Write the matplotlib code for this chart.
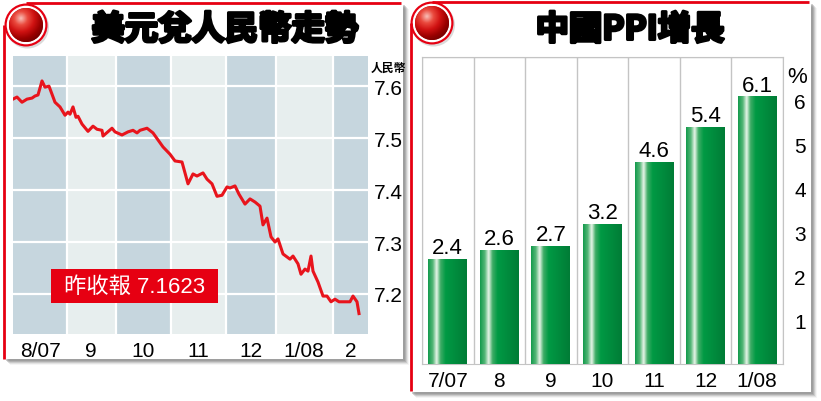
import numpy as np
import matplotlib.pyplot as plt
import matplotlib.patheffects as pe
from matplotlib.colors import LinearSegmentedColormap
from matplotlib.patches import Rectangle, Circle

plt.rcParams['font.family'] = ['Liberation Sans', 'Noto Sans CJK TC', 'DejaVu Sans']

# USD/CNY, Aug 2007 - Feb 2008 (x = trading day index)
fx_days = [0, 1.6, 3.6, 5.6, 7.6, 8.8, 10, 11.6, 12.8, 14.4, 16.8, 18.8, 20.8,
           22, 22.8, 24, 25.2, 26, 27.6, 30, 32, 33.6, 35.6, 36, 39.6, 40.8,
           43.6, 46, 48, 49.6, 50.8, 53.6, 56, 60, 62.8, 64.8, 67.6, 70, 72,
           73.6, 76, 77.6, 79.6, 81.6, 83.6, 85.6, 86.8, 88.8, 90.4, 92.8,
           94.8, 96.8, 98.8, 100, 101.6, 103.2, 104.8, 106, 108, 110.8, 112,
           114, 115.2, 116.8, 118, 119.2, 120, 122, 124, 125.6, 127.2, 128.8,
           130.4, 134.8, 136, 137.6, 138.4]
fx_rate = [7.575, 7.579, 7.569, 7.575, 7.577, 7.581, 7.583, 7.610, 7.598,
           7.600, 7.569, 7.560, 7.544, 7.550, 7.546, 7.560, 7.540, 7.542,
           7.527, 7.513, 7.523, 7.517, 7.515, 7.504, 7.519, 7.512, 7.506,
           7.512, 7.515, 7.510, 7.515, 7.519, 7.510, 7.483, 7.469, 7.456,
           7.454, 7.412, 7.431, 7.427, 7.433, 7.421, 7.412, 7.388, 7.390,
           7.406, 7.404, 7.408, 7.392, 7.373, 7.383, 7.377, 7.369, 7.333,
           7.346, 7.310, 7.300, 7.306, 7.277, 7.267, 7.273, 7.258, 7.238,
           7.248, 7.244, 7.273, 7.244, 7.223, 7.196, 7.196, 7.185, 7.190,
           7.185, 7.185, 7.196, 7.185, 7.1623]
fx_months = ['8/07', '9', '10', '11', '12', '1/08', '2']
fx_month_edges = [0, 21.6, 41, 63, 85, 105, 127.8, 142]
fx_ticks = [7.2, 7.3, 7.4, 7.5, 7.6]
fx_last = '7.1623'

# China PPI, % y/y
ppi_months = ['7/07', '8', '9', '10', '11', '12', '1/08']
ppi_values = [2.4, 2.6, 2.7, 3.2, 4.6, 5.4, 6.1]

RED = '#e60012'
W, H = 821, 402
fig = plt.figure(figsize=(W / 100, H / 100), dpi=100)
fig.patch.set_facecolor('white')

# page layer in pixel units
bg = fig.add_axes([0, 0, 1, 1])
bg.set_zorder(0)
bg.axis('off')


def card(x, y, w, h):
    for k, a in zip(range(1, 6), [0.35, 0.3, 0.22, 0.14, 0.07]):
        bg.add_patch(Rectangle((x + k + 1, y + k + 1), w, h, color='#7a7a7a', alpha=a, lw=0))
    bg.add_patch(Rectangle((x, y), w, h, color='white', lw=0))


def ball(cx, cy):
    bg.add_patch(Circle((cx + 1.5, cy + 2), 21.5, color='#999999', alpha=0.35, lw=0))
    bg.add_patch(Circle((cx, cy), 21.5, color=RED, lw=0))
    bg.add_patch(Circle((cx, cy), 19.3, color='white', lw=0))
    r = 17
    clip = Circle((cx, cy), r, color='#b00000', lw=0)
    bg.add_patch(clip)
    yy, xx = np.mgrid[-1:1:80j, -1:1:80j]
    d = np.hypot(xx + 0.3, yy + 0.4)
    cmap = LinearSegmentedColormap.from_list(
        'ball', ['#f9c0b8', '#ea4a3e', '#d01212', '#9a0000', '#6a0000'])
    im = bg.imshow(d, extent=(cx - r, cx + r, cy + r, cy - r), cmap=cmap,
                   vmin=0, vmax=1.6, aspect='auto', interpolation='bilinear',
                   zorder=2)
    im.set_clip_path(clip)


card(4, 4, 399, 356)
card(410, 3, 401, 390)
bg.plot([26, 401], [4, 4], color=RED, lw=2, solid_capstyle='butt')
bg.plot([4, 4], [26, 360], color=RED, lw=2, solid_capstyle='butt')
bg.plot([432, 809], [3, 3], color=RED, lw=2, solid_capstyle='butt')
bg.plot([410.5, 410.5], [24, 392], color=RED, lw=2, solid_capstyle='butt')
ball(26, 26)
ball(432, 24)

title_fx = [pe.Stroke(linewidth=2.2, foreground='black'), pe.Normal()]
bg.text(225, 31, '美元兌人民幣走勢', fontsize=24, fontweight='bold',
        family=['Noto Sans CJK TC'], ha='center', va='center', path_effects=title_fx)
bg.text(630, 31, '中國PPI增長', fontsize=24, fontweight='bold',
        family=['Noto Sans CJK TC'], ha='center', va='center', path_effects=title_fx)
bg.set_xlim(0, W)
bg.set_ylim(H, 0)

# ---- USD / RMB line ----
ax1 = fig.add_axes([13 / W, 1 - 335 / H, 355 / W, 278 / H])
ax1.set_zorder(1)
for i in range(len(fx_months)):
    ax1.axvspan(fx_month_edges[i], fx_month_edges[i + 1], lw=0,
                color='#c6d6de' if i % 2 == 0 else '#e7eeee')
for e in fx_month_edges[1:-1]:
    ax1.axvline(e, color='white', lw=1.6)
for t in fx_ticks:
    ax1.axhline(t, color='white', lw=1.6)
ax1.plot(fx_days, fx_rate, color='#e8141c', lw=2.2, solid_joinstyle='round')
ax1.set_xlim(fx_month_edges[0], fx_month_edges[-1])
ax1.set_ylim(7.123, 7.658)
centers = [(a + b) / 2 for a, b in zip(fx_month_edges[:-1], fx_month_edges[1:])]
ax1.set_xticks(centers, fx_months, fontsize=15)
ax1.yaxis.tick_right()
ax1.set_yticks(fx_ticks, [f'{t:.1f}' for t in fx_ticks], fontsize=15)
ax1.tick_params(length=0)
ax1.tick_params(axis='x', pad=5)
ax1.tick_params(axis='y', pad=4)
for s in ax1.spines.values():
    s.set_visible(False)
ax1.text(1.056, 7.637, '人民幣', transform=ax1.get_yaxis_transform(),
         fontsize=8.5, fontweight='bold', family=['Noto Sans CJK TC'],
         ha='center', va='center')
ax1.text(48.6, 7.215, ' 昨收報 ' + fx_last + ' ', color='white', fontsize=16,
         ha='center', va='center',
         bbox=dict(boxstyle='square,pad=0.3', fc=RED, ec='none'))

# ---- PPI bars ----
ax2 = fig.add_axes([422 / W, 1 - 365 / H, 361 / W, 307 / H])
ax2.set_zorder(1)
ax2.set_xticks(np.arange(-0.5, len(ppi_months)), minor=True)
ax2.set_yticks(range(1, 8), minor=True)
ax2.grid(which='minor', color='#c4c4c4', lw=1)
ax2.set_axisbelow(True)
bars = ax2.bar(range(len(ppi_months)), ppi_values, width=0.755,
               color='#009a44', zorder=2)
bar_cmap = LinearSegmentedColormap.from_list(
    'bar', [(0, '#139a4c'), (0.12, '#53b676'), (0.22, '#e8f5e8'),
            (0.32, '#3fac66'), (0.45, '#009a44'), (1, '#007c36')])
grad = np.linspace(0, 1, 128).reshape(1, -1)
for b in bars:
    x0, y0, w, h = b.get_x(), b.get_y(), b.get_width(), b.get_height()
    im = ax2.imshow(grad, extent=(x0, x0 + w, y0, y0 + h), cmap=bar_cmap,
                    aspect='auto', zorder=3, interpolation='bilinear')
    im.set_clip_path(b)
for i, v in enumerate(ppi_values):
    ax2.text(i, v + 0.02, f'{v}', ha='center', va='bottom', fontsize=16)
ax2.set_xlim(-0.5, len(ppi_months) - 0.5)
ax2.set_ylim(0, 7)
ax2.set_xticks(range(len(ppi_months)), ppi_months, fontsize=15)
ax2.yaxis.tick_right()
ax2.set_yticks(range(1, 7), [str(t) for t in range(1, 7)], fontsize=15)
ax2.tick_params(which='both', length=0)
ax2.tick_params(axis='x', pad=5)
ax2.tick_params(axis='y', pad=8)
for s in ax2.spines.values():
    s.set_color('#c4c4c4')
ax2.text(1.04, 6.55, '%', transform=ax2.get_yaxis_transform(),
         ha='center', va='center', fontsize=16)

fig.savefig('out.png', dpi=100)
